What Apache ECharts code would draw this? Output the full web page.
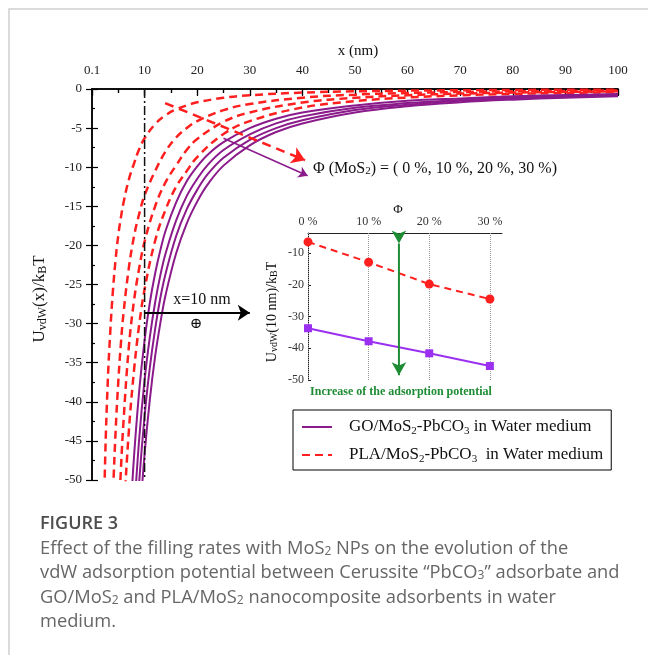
<!DOCTYPE html>
<html>
<head>
<meta charset="utf-8">
<script src="https://cdn.jsdelivr.net/npm/echarts@6/dist/echarts.min.js"></script>
<style>
html,body{margin:0;padding:0;background:#fff;}
#main{width:648px;height:655px;}
</style>
</head>
<body>
<div id="main"></div>
<script>
// main plot: x in nm, U/kBT
let purpleX = [7, 7.5, 8, 9, 10, 11, 12, 13, 14, 16, 18, 20, 22, 25, 30, 35, 40, 50, 60, 70, 80, 90, 100];
let go0  = [-59.0, -52.4, -46.9, -38.4, -32.1, -27.3, -23.6, -20.6, -18.1, -14.5, -11.8, -9.9, -8.4, -6.8, -5.0, -3.8, -3.0, -2.1, -1.5, -1.2, -0.94, -0.77, -0.64];
let go10 = [-68.4, -60.8, -54.4, -44.5, -37.2, -31.7, -27.3, -23.8, -21.0, -16.8, -13.7, -11.5, -9.7, -7.8, -5.8, -4.4, -3.5, -2.4, -1.8, -1.4, -1.09, -0.89, -0.74];
let go20 = [-76.7, -68.2, -61.0, -50.0, -41.8, -35.6, -30.7, -26.7, -23.6, -18.8, -15.4, -12.9, -10.9, -8.8, -6.5, -5.0, -4.0, -2.7, -2.0, -1.5, -1.22, -1.0, -0.83];
let go30 = [-85.7, -76.2, -68.2, -55.8, -46.7, -39.7, -34.2, -29.9, -26.3, -21.0, -17.2, -14.4, -12.2, -9.8, -7.2, -5.5, -4.4, -3.0, -2.2, -1.7, -1.36, -1.11, -0.93];

let redX = [2, 2.5, 3, 3.5, 4, 4.5, 5, 5.5, 6, 7, 8, 9, 10, 12, 14, 16, 18, 20, 25, 30, 40, 50, 60, 70, 80, 90, 100];
let pla0  = [-63, -47.4, -37.4, -30.7, -25.6, -21.7, -18.7, -16.4, -14.5, -11.6, -9.5, -7.65, -6.3, -4.5, -3.35, -2.6, -2.1, -1.7, -1.13, -0.8, -0.46, -0.30, -0.21, -0.16, -0.12, -0.10, -0.08];
let pla10 = [null, null, null, -63, -51.8, -43.6, -37.4, -32.5, -28.6, -22.9, -18.8, -15.9, -13.6, -10.5, -7.97, -6.2, -5.0, -4.1, -2.7, -1.92, -1.11, -0.72, -0.51, -0.38, -0.30, -0.24, -0.19];
let pla20 = [null, null, null, null, null, -66.6, -56.4, -48.6, -42.4, -33.0, -27.0, -22.8, -19.5, -15.0, -11.9, -9.77, -7.8, -6.4, -4.2, -3.0, -1.73, -1.13, -0.80, -0.59, -0.46, -0.37, -0.30];
let pla30 = [null, null, null, null, null, null, null, -62.7, -55.0, -43.8, -35.9, -30.0, -25.6, -19.4, -15.4, -12.5, -10.5, -8.7, -5.75, -4.1, -2.37, -1.55, -1.09, -0.81, -0.63, -0.50, -0.41];

// inset: U at x = 10 nm vs MoS2 fraction
let phi = [0, 10, 20, 30];
let insetPLA = [-6.5, -12.9, -19.8, -24.5];
let insetGO = [-33.7, -37.8, -41.6, -45.6];

let xTickLabels = ['0.1', '10', '20', '30', '40', '50', '60', '70', '80', '90', '100'];

let serif = "'Liberation Serif', 'DejaVu Serif', serif";
let capFont = '"Open Sans", "Noto Sans", sans-serif';
let purple = '#8b1a8b';
let red = '#ff1f1f';
let violet = '#9b30f0';
let green = '#1e8c34';

function zip(xs, ys){
  let out = [];
  for(let i=0;i<xs.length;i++){
    out.push([xs[i], ys[i]]);
  }
  return out;
}

let chart = echarts.init(document.getElementById('main'));

function mainLine(name, xs, ys, color, dashed){
  return {
    name: name, type: 'line', xAxisIndex: 0, yAxisIndex: 0,
    data: zip(xs, ys), symbol: 'none', smooth: 0.4, connectNulls: false,
    lineStyle: {color: color, width: dashed ? 2.5 : 2, type: dashed ? [8, 5] : 'solid'},
    itemStyle: {color: color},
    z: 3
  };
}

function arrow(coordA, coordB, color, width, type, size){
  return {
    type: 'line', xAxisIndex: 0, yAxisIndex: 0, data: [],
    markLine: {
      silent: true, symbol: ['none', 'arrow'], symbolSize: size,
      label: {show: false},
      lineStyle: {color: color, width: width, type: type},
      data: [[{coord: coordA}, {coord: coordB}]]
    },
    z: 5
  };
}

function caption(text, y){
  return {type: 'text', x: 40, y: y,
    style: {text: text, x: 0, y: 0, textVerticalAlign: 'middle', font: '18.3px ' + capFont, fill: '#666',
      rich: {s: {fontSize: 12, lineHeight: 12, verticalAlign: 'bottom', fill: '#666', fontFamily: capFont}}}};
}

let sub = {fontSize: 11, lineHeight: 11, verticalAlign: 'bottom', fontFamily: serif, fill: '#111'};

let option = {
  animation: false,
  backgroundColor: '#fff',
  grid: [
    {left: 92, top: 89, width: 526, height: 391},
    {left: 308, top: 233, width: 194, height: 147}
  ],
  xAxis: [
    {
      gridIndex: 0, type: 'value', position: 'top', min: 0, max: 100, interval: 10,
      axisLine: {lineStyle: {color: '#000', width: 1.5}},
      axisTick: {inside: true, length: 6, lineStyle: {color: '#000', width: 1.2}},
      minorTick: {show: true, splitNumber: 2, length: 4, lineStyle: {color: '#000', width: 1.2}},
      axisLabel: {
        color: '#222', fontFamily: serif, fontSize: 13, margin: 12,
        formatter: function(v){ return xTickLabels[Math.round(v/10)]; }
      },
      splitLine: {show: false}
    },
    {
      gridIndex: 0, type: 'value', position: 'bottom', min: 0, max: 100, interval: 10,
      axisLine: {lineStyle: {color: '#000', width: 1.5}},
      axisTick: {inside: false, length: 7, lineStyle: {color: '#000', width: 1.2}},
      minorTick: {show: true, splitNumber: 2, length: 4, lineStyle: {color: '#000', width: 1.2}},
      axisLabel: {show: false},
      splitLine: {show: false}
    },
    {
      gridIndex: 1, type: 'value', position: 'top', min: 0, max: 32, interval: 10,
      axisLine: {lineStyle: {color: '#222', width: 1}},
      axisTick: {show: false},
      axisLabel: {
        color: '#333', fontFamily: serif, fontSize: 12, margin: 5,
        formatter: function(v){ return (v % 10 === 0) ? v + ' %' : ''; }
      },
      splitLine: {show: false}
    }
  ],
  yAxis: [
    {
      gridIndex: 0, type: 'value', position: 'left', min: -50, max: 0, interval: 5,
      axisLine: {lineStyle: {color: '#000', width: 1.5}},
      axisTick: {inside: true, length: 6, lineStyle: {color: '#000', width: 1.2}},
      minorTick: {show: true, splitNumber: 2, length: 3, lineStyle: {color: '#000', width: 1.2}},
      axisLabel: {color: '#222', fontFamily: serif, fontSize: 13, margin: 10},
      splitLine: {show: false}
    },
    {
      gridIndex: 0, type: 'value', position: 'right', min: -50, max: 0, interval: 5,
      axisLine: {lineStyle: {color: '#000', width: 1.5}},
      axisTick: {inside: true, length: 6, lineStyle: {color: '#000', width: 1.2}},
      minorTick: {show: false},
      axisLabel: {show: false},
      splitLine: {show: false}
    },
    {
      gridIndex: 1, type: 'value', position: 'left', min: -50, max: -3.7, interval: 10,
      axisLine: {lineStyle: {color: '#222', width: 1}},
      axisTick: {inside: true, length: 3, lineStyle: {color: '#222'}},
      axisLabel: {
        color: '#333', fontFamily: serif, fontSize: 12, margin: 4,
        formatter: function(v){ return v % 10 === 0 ? v : ''; }
      },
      splitLine: {show: false}
    }
  ],
  legend: {
    data: ['GO', 'PLA'], orient: 'vertical', left: 293, top: 410,
    borderColor: '#000', borderWidth: 1, padding: [7, 8, 5, 8],
    itemWidth: 30, itemHeight: 14, itemGap: 8,
    selectedMode: false,
    itemStyle: {opacity: 0, borderWidth: 0},
    textStyle: {
      fontFamily: serif, fontSize: 17, color: '#111', padding: [0, 0, 0, 12], lineHeight: 20,
      rich: {s: sub}
    },
    formatter: function(name){
      if(name === 'GO') return 'GO/MoS{s|2}-PbCO{s|3} in Water medium';
      return 'PLA/MoS{s|2}-PbCO{s|3}  in Water medium';
    }
  },
  series: [
    mainLine('PLA', redX, pla0, red, true),
    mainLine('PLA', redX, pla10, red, true),
    mainLine('PLA', redX, pla20, red, true),
    mainLine('PLA', redX, pla30, red, true),
    mainLine('GO', purpleX, go0, purple, false),
    mainLine('GO', purpleX, go10, purple, false),
    mainLine('GO', purpleX, go20, purple, false),
    mainLine('GO', purpleX, go30, purple, false),
    // x = 10 nm marker
    {
      type: 'line', xAxisIndex: 0, yAxisIndex: 0, data: [[10, 0], [10, -50]],
      symbol: 'none', lineStyle: {color: '#111', width: 1.5, type: [9, 3, 2, 3]}, z: 4
    },
    arrow([10, -28.6], [30, -28.6], '#000', 1.8, 'solid', 12),
    arrow([13.9, -1.8], [40.5, -9.1], red, 2.5, [9, 6], 13),
    arrow([25, -6.3], [41, -11.1], purple, 1.5, 'solid', 9),
    // inset
    {
      name: 'inset PLA', type: 'line', xAxisIndex: 2, yAxisIndex: 2,
      data: zip(phi, insetPLA), symbol: 'circle', symbolSize: 9,
      lineStyle: {color: red, width: 2, type: [7, 5]}, itemStyle: {color: red},
      markLine: {
        silent: true, symbol: 'none', label: {show: false},
        lineStyle: {color: '#999', width: 1, type: 'dotted'},
        data: phi.map(function(p){ return {xAxis: p}; })
      },
      z: 6
    },
    {
      name: 'inset GO', type: 'line', xAxisIndex: 2, yAxisIndex: 2,
      data: zip(phi, insetGO), symbol: 'rect', symbolSize: 8,
      lineStyle: {color: violet, width: 2}, itemStyle: {color: violet}, z: 6
    },
    {
      name: 'increase', type: 'line', xAxisIndex: 2, yAxisIndex: 2,
      data: [[15, -7], [15, -48.5]], symbol: 'arrow', symbolSize: [11, 13], symbolRotate: 180,
      lineStyle: {color: green, width: 2}, itemStyle: {color: green}, z: 7
    }
  ],
  graphic: [
    {type: 'polyline', shape: {points: [[9, 655], [9, 9], [648, 9]]}, style: {stroke: '#cfcfcf', lineWidth: 1.5, fill: null}},
    {type: 'text', style: {text: 'x (nm)', x: 358, y: 51, textAlign: 'center', textVerticalAlign: 'middle', font: '15px ' + serif, fill: '#111'}},
    {type: 'text', x: 40, y: 299, rotation: Math.PI / 2,
      style: {text: 'U{s|vdW}(x)/k{s|B}T', textAlign: 'center', textVerticalAlign: 'middle', font: '17px ' + serif, fill: '#111',
        rich: {s: {fontSize: 12, lineHeight: 12, verticalAlign: 'bottom', fontFamily: serif, fill: '#111'}}}},
    {type: 'text', style: {text: 'x=10 nm', x: 202, y: 300, textAlign: 'center', textVerticalAlign: 'middle', font: '16px ' + serif, fill: '#111'}},
    {type: 'text', style: {text: '⊕', x: 196, y: 324, textAlign: 'center', textVerticalAlign: 'middle', font: '15px ' + serif, fill: '#111'}},
    {type: 'text', style: {text: 'Φ (MoS{s|2}) = ( 0 %, 10 %, 20 %, 30 %)', x: 313, y: 169, textAlign: 'left', textVerticalAlign: 'middle', font: '16px ' + serif, fill: '#111',
      rich: {s: sub}}},
    {type: 'text', style: {text: 'Φ', x: 398, y: 210, textAlign: 'center', textVerticalAlign: 'middle', font: '13px ' + serif, fill: '#111'}},
    {type: 'text', x: 272, y: 312, rotation: Math.PI / 2,
      style: {text: 'U{s|vdW}(10 nm)/k{s|B}T', textAlign: 'center', textVerticalAlign: 'middle', font: '14px ' + serif, fill: '#111',
        rich: {s: {fontSize: 10, lineHeight: 10, verticalAlign: 'bottom', fontFamily: serif, fill: '#111'}}}},
    {type: 'text', style: {text: 'Increase of the adsorption potential', x: 401, y: 392, textAlign: 'center', textVerticalAlign: 'middle', font: 'bold 12px ' + serif, fill: green}},
    // caption
    {type: 'text', x: 40, y: 524,
      style: {text: 'FIGURE 3', x: 0, y: 0, textVerticalAlign: 'middle', font: '600 18px ' + capFont, fill: '#4d4d4d'}},
    caption('Effect of the filling rates with MoS{s|2} NPs on the evolution of the', 549),
    caption('vdW adsorption potential between Cerussite “PbCO{s|3}” adsorbate and', 573),
    caption('GO/MoS{s|2} and PLA/MoS{s|2} nanocomposite adsorbents in water', 598),
    caption('medium.', 622)
  ]
};

chart.setOption(option);
</script>
</body>
</html>
